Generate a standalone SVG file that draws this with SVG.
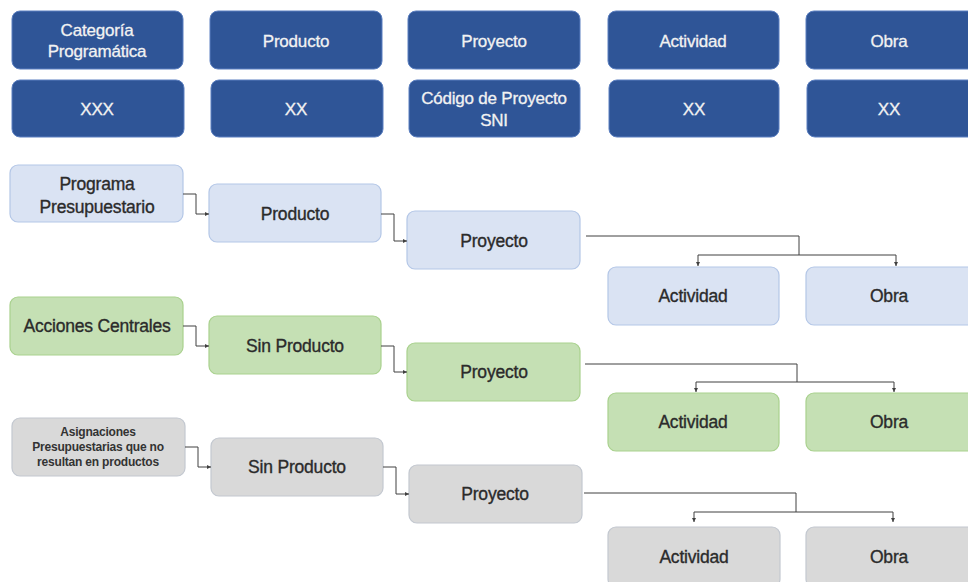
<svg xmlns="http://www.w3.org/2000/svg" width="968" height="582" viewBox="0 0 968 582">
<style>
.hd{fill:#2f5597;stroke:#5b7fc0;stroke-width:1}
.bl{fill:#dae3f3;stroke:#b4c7e7;stroke-width:1.2}
.gr{fill:#c5e0b4;stroke:#a9d18e;stroke-width:1.2}
.gy{fill:#d9d9d9;stroke:#c3c8d0;stroke-width:1.2}
.ht{font-family:"Liberation Sans",Arial,sans-serif;font-size:17px;fill:#f2f2f2;stroke:#f2f2f2;stroke-width:0.3;text-anchor:middle;letter-spacing:-0.2px}
.t{font-family:"Liberation Sans",Arial,sans-serif;font-size:17.5px;fill:#2b2b2b;stroke:#2b2b2b;stroke-width:0.35;text-anchor:middle;letter-spacing:-0.2px}
.s{font-family:"Liberation Sans",Arial,sans-serif;font-size:12px;font-weight:bold;fill:#333333;text-anchor:middle;letter-spacing:-0.2px}
.c{fill:none;stroke:#404040;stroke-width:1}
</style>
<defs>
<marker id="ar" viewBox="0 0 6 6" refX="6" refY="3" markerWidth="4" markerHeight="4" orient="auto" markerUnits="userSpaceOnUse">
<path d="M0,0 L6,3 L0,6 z" fill="#404040"/>
</marker>
</defs>
<rect width="968" height="582" fill="#ffffff"/>

<g id="h1"><rect class="hd" x="12" y="11" width="171" height="58" rx="8"/><text class="ht" x="97" y="36">Categoría</text><text class="ht" x="97" y="57">Programática</text></g>
<g id="h2"><rect class="hd" x="210" y="11" width="172" height="58" rx="8"/><text class="ht" x="296" y="47">Producto</text></g>
<g id="h3"><rect class="hd" x="408" y="11" width="172" height="58" rx="8"/><text class="ht" x="494" y="47">Proyecto</text></g>
<g id="h4"><rect class="hd" x="608" y="11" width="171" height="58" rx="8"/><text class="ht" x="693" y="47">Actividad</text></g>
<g id="h5"><rect class="hd" x="806" y="11" width="170" height="58" rx="8"/><text class="ht" x="889" y="47">Obra</text></g>

<g id="h6"><rect class="hd" x="12" y="80" width="172" height="57" rx="8"/><text class="ht" x="97" y="115">XXX</text></g>
<g id="h7"><rect class="hd" x="211" y="80" width="172" height="57" rx="8"/><text class="ht" x="296" y="115">XX</text></g>
<g id="h8"><rect class="hd" x="409" y="80" width="171" height="57" rx="8"/><text class="ht" x="494" y="104">Código de Proyecto</text><text class="ht" x="494" y="126">SNI</text></g>
<g id="h9"><rect class="hd" x="609" y="80" width="170" height="57" rx="8"/><text class="ht" x="694" y="115">XX</text></g>
<g id="h10"><rect class="hd" x="807" y="80" width="170" height="57" rx="8"/><text class="ht" x="889" y="115">XX</text></g>

<g id="b1"><rect class="bl" x="10" y="165" width="173" height="57" rx="8"/><text class="t" x="97" y="190">Programa</text><text class="t" x="97" y="213">Presupuestario</text></g>
<g id="b2"><rect class="bl" x="209" y="184" width="172" height="58" rx="8"/><text class="t" x="295" y="220">Producto</text></g>
<g id="b3"><rect class="bl" x="407" y="211" width="173" height="58" rx="8"/><text class="t" x="494" y="247">Proyecto</text></g>
<g id="b4"><rect class="bl" x="608" y="267" width="171" height="58" rx="8"/><text class="t" x="693" y="302">Actividad</text></g>
<g id="b5"><rect class="bl" x="806" y="267" width="170" height="58" rx="8"/><text class="t" x="889" y="302">Obra</text></g>

<g id="g1"><rect class="gr" x="10" y="297" width="173" height="58" rx="8"/><text class="t" x="97" y="332">Acciones Centrales</text></g>
<g id="g2"><rect class="gr" x="209" y="316" width="172" height="58" rx="8"/><text class="t" x="295" y="352">Sin Producto</text></g>
<g id="g3"><rect class="gr" x="407" y="343" width="173" height="58" rx="8"/><text class="t" x="494" y="378">Proyecto</text></g>
<g id="g4"><rect class="gr" x="608" y="393" width="171" height="58" rx="8"/><text class="t" x="693" y="428">Actividad</text></g>
<g id="g5"><rect class="gr" x="806" y="393" width="170" height="58" rx="8"/><text class="t" x="889" y="428">Obra</text></g>

<g id="y1"><rect class="gy" x="12" y="418" width="173" height="58" rx="8"/><text class="s" x="98" y="436">Asignaciones</text><text class="s" x="98" y="451">Presupuestarias que no</text><text class="s" x="98" y="466">resultan en productos</text></g>
<g id="y2"><rect class="gy" x="211" y="438" width="172" height="58" rx="8"/><text class="t" x="297" y="473">Sin Producto</text></g>
<g id="y3"><rect class="gy" x="409" y="465" width="173" height="58" rx="8"/><text class="t" x="495" y="500">Proyecto</text></g>
<g id="y4"><rect class="gy" x="608" y="527" width="172" height="60" rx="8"/><text class="t" x="694" y="563">Actividad</text></g>
<g id="y5"><rect class="gy" x="806" y="527" width="170" height="60" rx="8"/><text class="t" x="889" y="563">Obra</text></g>

<g id="connectors">
<path class="c" d="M183,194 H196 V214 H209" marker-end="url(#ar)"/>
<path class="c" d="M381,214 H394 V241 H407" marker-end="url(#ar)"/>
<path class="c" d="M586,236 H799 V255"/>
<path class="c" d="M799,255 H698 V266" marker-end="url(#ar)"/>
<path class="c" d="M799,255 H896 V266" marker-end="url(#ar)"/>

<path class="c" d="M183,326 H196 V346 H209" marker-end="url(#ar)"/>
<path class="c" d="M381,346 H394 V372 H407" marker-end="url(#ar)"/>
<path class="c" d="M585,364 H797 V382"/>
<path class="c" d="M797,382 H696 V392" marker-end="url(#ar)"/>
<path class="c" d="M797,382 H894 V392" marker-end="url(#ar)"/>

<path class="c" d="M185,447 H198 V467 H211" marker-end="url(#ar)"/>
<path class="c" d="M383,467 H396 V494 H409" marker-end="url(#ar)"/>
<path class="c" d="M584,493 H796 V512"/>
<path class="c" d="M796,512 H694 V522" marker-end="url(#ar)"/>
<path class="c" d="M796,512 H893 V522" marker-end="url(#ar)"/>
</g>
</svg>
